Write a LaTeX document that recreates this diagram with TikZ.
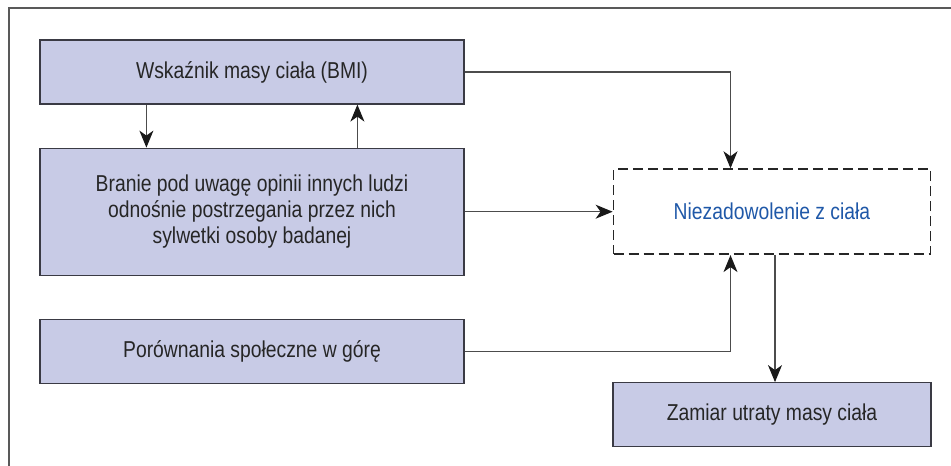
\documentclass[tikz,border=0pt]{standalone}
\usepackage{fontspec}
\setmainfont{Liberation Sans}[FakeStretch=0.84]
\usepackage{tikz}
\usetikzlibrary{arrows.meta,positioning}
\definecolor{boxfill}{HTML}{C8CBE6}
\definecolor{boxline}{HTML}{3A3A44}
\definecolor{textblue}{HTML}{1F58A8}

\begin{document}
\begin{tikzpicture}[
x=1pt,y=1pt,
node distance=43pt and 148pt,
factor/.style={rectangle,draw=boxline,line width=1.2pt,fill=boxfill,minimum width=424pt,minimum height=64pt,inner sep=0pt,align=center,font=\fontsize{23}{26}\selectfont,text=black!85},
outcome/.style={rectangle,draw=black!85,line width=1.8pt,dash pattern=on 10pt off 5pt,minimum width=317pt,minimum height=85pt,inner sep=0pt,align=center,font=\fontsize{23}{26}\selectfont,text=textblue},
arr/.style={-{Stealth[length=17pt,width=14pt,inset=5pt,color=black!90]},line width=1.1pt,draw=black!70}
]
\useasboundingbox (0,0) rectangle (951,-466);
\draw[line width=2pt,black!65] (9,-466) -- (9,-8) -- (951,-8);

\node[factor] (bmi) at (252,-72) {Wskaźnik masy ciała (BMI)};
\node[factor,below=of bmi,minimum height=127pt] (opinie) {Branie pod uwagę opinii innych ludzi\\odnośnie postrzegania przez nich\\sylwetki osoby badanej};
\node[factor,below=of opinie] (porown) {Porównania społeczne w górę};
\node[outcome,right=of opinie] (niezad) {Niezadowolenie z ciała};
\node[factor,below=127pt of niezad,minimum width=318pt] (zamiar) {Zamiar utraty masy ciała};

\draw[arr] ([xshift=107pt]bmi.south west) -- ([xshift=107pt]opinie.north west);
\draw[arr] ([xshift=318pt]opinie.north west) -- ([xshift=318pt]bmi.south west);
\draw[arr] (bmi.east) -| ([xshift=-41.5pt]niezad.north);
\draw[arr] (opinie.east) -- (niezad.west);
\draw[arr] (porown.east) -| ([xshift=-41.5pt]niezad.south);
\draw[arr] ([xshift=3pt]niezad.south) -- ([xshift=3pt]zamiar.north);
\end{tikzpicture}
\end{document}
